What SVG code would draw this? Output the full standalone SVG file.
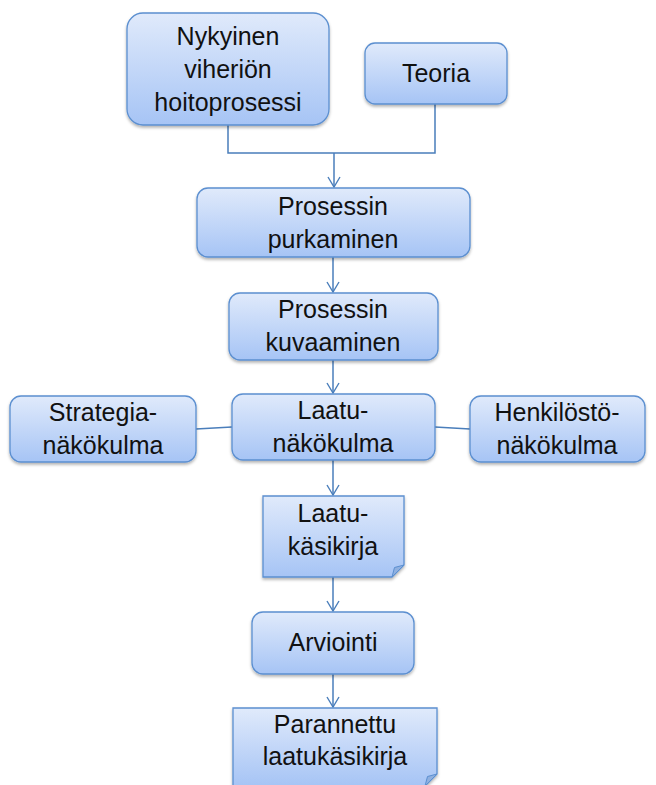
<svg xmlns="http://www.w3.org/2000/svg" width="656" height="785" viewBox="0 0 656 785">
  <defs>
    <linearGradient id="fillGrad" x1="0" y1="0" x2="0" y2="1">
      <stop offset="0" stop-color="#e0eafb"/>
      <stop offset="1" stop-color="#a6c4f5"/>
    </linearGradient>
    <filter id="shadow" x="-10%" y="-10%" width="120%" height="130%">
      <feDropShadow dx="0" dy="2" stdDeviation="1.5" flood-color="#000" flood-opacity="0.3"/>
    </filter>
    <!-- open V arrowhead, drawn along +x so orient="auto" points it along the line -->
    <marker id="arrow" viewBox="0 0 12 14" refX="11" refY="7" markerWidth="12" markerHeight="14" markerUnits="userSpaceOnUse" orient="auto">
      <path d="M1,1 L11,7 L1,13" fill="none" stroke="#4a7ebb" stroke-width="1.4"/>
    </marker>
  </defs>
  <style>
    .box { fill: url(#fillGrad); stroke: #5b8fd0; stroke-width: 1.3; filter: url(#shadow); }
    .fold { fill: #8fb0e0; stroke: #5b8fd0; stroke-width: 1; }
    .lbl { font-family: "Liberation Sans", Arial, sans-serif; font-size: 25px; fill: #111; text-anchor: middle; }
    .conn { fill: none; stroke: #4a7ebb; stroke-width: 1.5; }
  </style>

  <!-- connectors -->
  <g id="connectors">
    <path class="conn" d="M228,125 V153 H435 V104"/>
    <path class="conn" d="M334,153 V187" marker-end="url(#arrow)"/>
    <path class="conn" d="M333,257 V292" marker-end="url(#arrow)"/>
    <path class="conn" d="M333,360 V393" marker-end="url(#arrow)"/>
    <path class="conn" d="M196,429 L232,427"/>
    <path class="conn" d="M435,427 L470,429"/>
    <path class="conn" d="M333,460 V495" marker-end="url(#arrow)"/>
    <path class="conn" d="M333,577 V611" marker-end="url(#arrow)"/>
    <path class="conn" d="M333,674 V707" marker-end="url(#arrow)"/>
  </g>

  <g id="nykyinen">
    <rect class="box" x="127" y="13" width="202" height="112" rx="16"/>
    <text class="lbl" x="228" y="45">Nykyinen</text>
    <text class="lbl" x="228" y="78">viheriön</text>
    <text class="lbl" x="228" y="111">hoitoprosessi</text>
  </g>

  <g id="teoria">
    <rect class="box" x="365" y="43" width="142" height="61" rx="10"/>
    <text class="lbl" x="436" y="82">Teoria</text>
  </g>

  <g id="purkaminen">
    <rect class="box" x="197" y="188" width="273" height="69" rx="11"/>
    <text class="lbl" x="333" y="215">Prosessin</text>
    <text class="lbl" x="333" y="248">purkaminen</text>
  </g>

  <g id="kuvaaminen">
    <rect class="box" x="229" y="293" width="209" height="67" rx="11"/>
    <text class="lbl" x="333" y="318">Prosessin</text>
    <text class="lbl" x="333" y="351">kuvaaminen</text>
  </g>

  <g id="strategia">
    <rect class="box" x="10" y="396" width="186" height="66" rx="11"/>
    <text class="lbl" x="103" y="421">Strategia-</text>
    <text class="lbl" x="103" y="454">näkökulma</text>
  </g>

  <g id="laatu">
    <rect class="box" x="232" y="394" width="203" height="66" rx="11"/>
    <text class="lbl" x="333" y="419">Laatu-</text>
    <text class="lbl" x="333" y="452">näkökulma</text>
  </g>

  <g id="henkilosto">
    <rect class="box" x="470" y="396" width="175" height="66" rx="11"/>
    <text class="lbl" x="557" y="421">Henkilöstö-</text>
    <text class="lbl" x="557" y="454">näkökulma</text>
  </g>

  <g id="kasikirja">
    <path class="box" d="M263,496 H404 V565 L392,577 H263 Z"/>
    <path class="fold" d="M392,577 L394.5,567.5 L404,565 Z"/>
    <text class="lbl" x="333" y="522">Laatu-</text>
    <text class="lbl" x="333" y="555">käsikirja</text>
  </g>

  <g id="arviointi">
    <rect class="box" x="252" y="612" width="162" height="62" rx="11"/>
    <text class="lbl" x="333" y="651">Arviointi</text>
  </g>

  <g id="parannettu">
    <path class="box" d="M233,708 H437 V774 L425,786 H233 Z"/>
    <path class="fold" d="M425,786 L427.5,776.5 L437,774 Z"/>
    <text class="lbl" x="335" y="733">Parannettu</text>
    <text class="lbl" x="335" y="765">laatukäsikirja</text>
  </g>
</svg>
